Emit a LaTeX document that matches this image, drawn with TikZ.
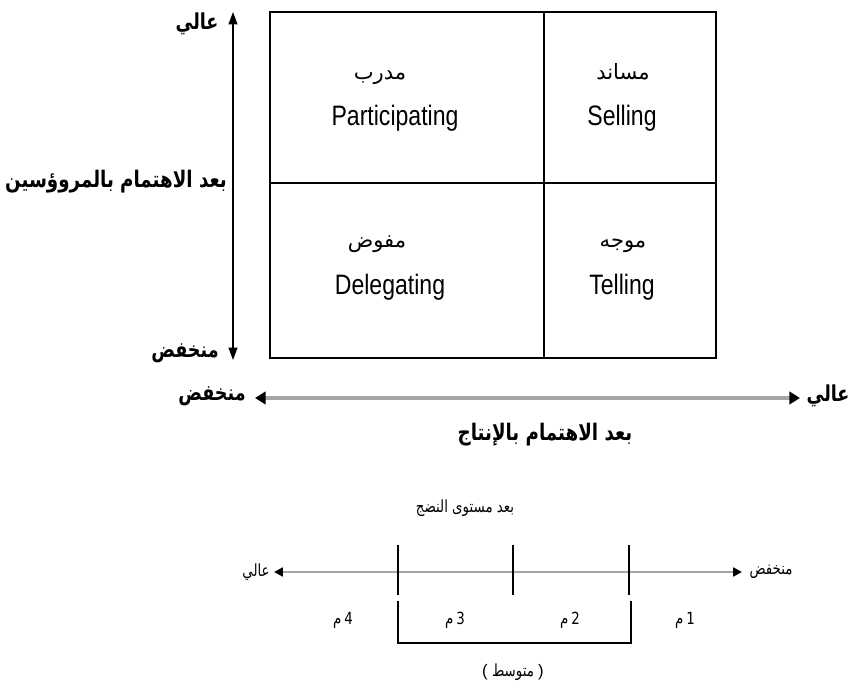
\documentclass[tikz,border=0pt]{standalone}
\usepackage{fontspec}
\setmainfont{Liberation Sans}
\newfontfamily\arabicfont[Script=Arabic]{DejaVu Sans}
\newfontfamily\arabicbold[Script=Arabic,FakeStretch=0.8]{DejaVu Sans Bold}
\newfontfamily\arabicnarrow[Script=Arabic,FakeStretch=0.8]{DejaVu Sans}
\newfontfamily\latinnarrow[FakeStretch=0.82]{Liberation Sans}
\TeXXeTstate=1
\usetikzlibrary{arrows.meta}

\tikzset{
  boxline/.style={line width=0.9pt},
  quadname/.style={font=\arabicfont\fontsize{12}{14}\selectfont,anchor=base},
  quadlabel/.style={font=\latinnarrow\fontsize{16}{18}\selectfont},
  axisword/.style={font=\arabicbold\fontsize{12.5}{14}\selectfont},
  axislabel/.style={font=\arabicbold\fontsize{13}{15}\selectfont},
  vaxis/.style={line width=0.8pt,{Triangle[length=7pt,width=5pt]}-{Triangle[length=7pt,width=5pt]}},
  haxis/.style={line width=2.2pt,gray!70,
    {Triangle[length=6pt,width=7pt,color=black]}-{Triangle[length=6pt,width=7pt,color=black]}},
  maxis/.style={line width=1.6pt,gray!70,
    {Triangle[length=5pt,width=5pt,color=black]}-{Triangle[length=5pt,width=5pt,color=black]}},
  smallword/.style={font=\arabicnarrow\fontsize{9.5}{11}\selectfont},
}

\begin{document}
\begin{tikzpicture}[x=0.02cm,y=-0.02cm]
\useasboundingbox (0,0) rectangle (858,692);

% the four styles
\draw[boxline] (270,12) rectangle (716,358);
\draw[boxline] (544,12) -- (544,358);
\draw[boxline] (270,183) -- (716,183);

\node[quadname] (coachAr) at (380,80) {\beginR مدرب\endR};
\node[quadlabel] (coach) at (395,118) {Participating};
\node[quadname] (supportAr) at (623,80) {\beginR مساند\endR};
\node[quadlabel] (support) at (622,118) {Selling};
\node[quadname] (delegateAr) at (377,248) {\beginR مفوض\endR};
\node[quadlabel] (delegate) at (390,287) {Delegating};
\node[quadname] (directAr) at (623,248) {\beginR موجه\endR};
\node[quadlabel] (direct) at (622,287) {Telling};

% vertical axis
\coordinate (vtop) at (233,12);
\coordinate (vbot) at (233,360);
\draw[vaxis] (vtop) -- (vbot);
\node[axisword] (vhigh) at (197,24) {\beginR عالي\endR};
\node[axisword] (vlow) at (185,353) {\beginR منخفض\endR};
\node[axislabel] (vname) at (116,182) {\beginR بعد الاهتمام بالمروؤسين\endR};

% horizontal axis
\coordinate (hleft) at (255,398);
\coordinate (hright) at (800,398);
\draw[haxis] (hleft) -- (hright);
\node[axisword] (hlow) at (212,396) {\beginR منخفض\endR};
\node[axisword] (hhigh) at (828,396) {\beginR عالي\endR};
\node[axislabel] (hname) at (545,435) {\beginR بعد الاهتمام بالإنتاج\endR};

% maturity scale
\node[smallword] (mname) at (465,508) {\beginR بعد مستوى النضج\endR};
\coordinate (mleft) at (274,572);
\coordinate (mright) at (742,572);
\draw[maxis] (mleft) -- (mright);
\node[smallword] (mhigh) at (256,572) {\beginR عالي\endR};
\node[smallword] (mlow) at (771,572) {\beginR منخفض\endR};
\foreach \x in {398,513,629}
  \draw[line width=0.6pt] (\x,545) -- (\x,595);
\foreach \x/\n in {343/4,455/3,570/2,685/1}
  \node[smallword] (m\n) at (\x,620) {\beginR م\endR\,\n};
\draw[line width=0.8pt] (398,601) |- (631,643) -- (631,601);
\node[smallword] (mid) at (513,672) {{\normalfont(} \beginR متوسط\endR\ {\normalfont)}};
\end{tikzpicture}
\end{document}
